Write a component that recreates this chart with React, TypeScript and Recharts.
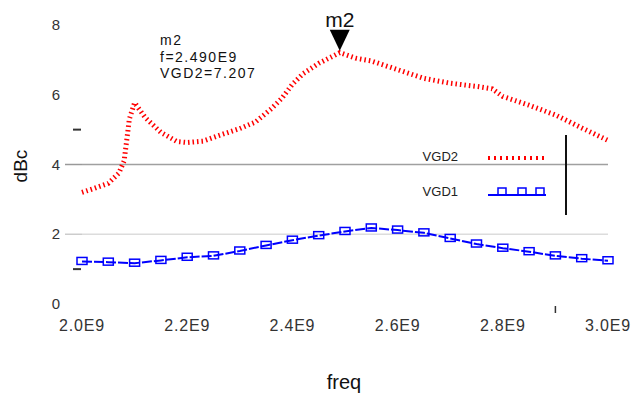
import { LineChart, Line, XAxis, YAxis, ReferenceLine, ReferenceDot } from 'recharts';

// VGD2 trace (dBc) vs freq (GHz -> shown as E9)
const vgd2Freq = [2.0, 2.02, 2.05, 2.07, 2.08, 2.085, 2.09, 2.1, 2.12, 2.15, 2.18, 2.2, 2.23, 2.26, 2.3, 2.33, 2.36, 2.38, 2.4, 2.42, 2.45, 2.49, 2.52, 2.55, 2.6, 2.65, 2.7, 2.75, 2.78, 2.8, 2.85, 2.9, 2.95, 3.0];
const vgd2Values = [3.2, 3.3, 3.46, 3.75, 4.1, 4.69, 5.3, 5.77, 5.35, 4.92, 4.66, 4.63, 4.67, 4.83, 5.03, 5.22, 5.6, 5.9, 6.3, 6.6, 6.9, 7.207, 7.05, 6.97, 6.72, 6.47, 6.33, 6.24, 6.17, 5.95, 5.7, 5.42, 5.05, 4.69];

// VGD1 trace
const vgd1Freq = [2.0, 2.05, 2.1, 2.15, 2.2, 2.25, 2.3, 2.35, 2.4, 2.45, 2.5, 2.55, 2.6, 2.65, 2.7, 2.75, 2.8, 2.85, 2.9, 2.95, 3.0];
const vgd1Values = [1.22, 1.2, 1.17, 1.25, 1.34, 1.38, 1.52, 1.68, 1.83, 1.96, 2.08, 2.18, 2.12, 2.04, 1.88, 1.72, 1.6, 1.5, 1.38, 1.3, 1.24];

const xTicks = [2.0, 2.2, 2.4, 2.6, 2.8, 2.9, 3.0];
const yTicks = [0, 1, 2, 4, 5, 6, 8];
const yLabels = [0, 2, 4, 6, 8];

const markerName = 'm2';
const markerFreq = 2.49;
const markerValue = 7.207;

const vgd2Data = vgd2Freq.map((f, i) => ({ freq: f, vgd2: vgd2Values[i] }));
const vgd1Data = vgd1Freq.map((f, i) => ({ freq: f, vgd1: vgd1Values[i] }));

const FONT = '"Liberation Sans", Arial, sans-serif';

function YTick({ y, payload }: any) {
  const v = payload.value;
  return (
    <g>
      {yLabels.includes(v) && (
        <text x={60} y={y + 5} textAnchor="end" fontSize={15} fill="#333" fontFamily={FONT}>{v}</text>
      )}
      {v === 4 && <line x1={65} x2={82} y1={y} y2={y} stroke="#999" strokeWidth={1.5} />}
      {v === 2 && <line x1={65} x2={82} y1={y} y2={y} stroke="#ccc" strokeWidth={1.5} />}
      {(v === 1 || v === 5) && <line x1={73} x2={81} y1={y} y2={y} stroke="#333" strokeWidth={2} />}
    </g>
  );
}

function XTick({ x, payload }: any) {
  const v = payload.value;
  if (v === 2.9) return <line x1={x} x2={x} y1={306} y2={313} stroke="#333" strokeWidth={1.5} />;
  return (
    <text x={x} y={331} textAnchor="middle" fontSize={16} letterSpacing={0.8} fill="#333" fontFamily={FONT}>
      {v.toFixed(1) + 'E9'}
    </text>
  );
}

function BoxDot(props: any) {
  const { cx, cy, index } = props;
  return <rect key={index} x={cx - 5} y={cy - 4} width={10} height={7} fill="none" stroke="#0000ff" strokeWidth={1.5} />;
}

function Marker({ cx, cy }: any) {
  return (
    <g>
      <polygon points={`${cx - 10},${cy - 23} ${cx + 10},${cy - 23} ${cx},${cy - 2}`} fill="#000" />
      <text x={cx} y={cy - 26} textAnchor="middle" fontSize={21} fill="#111" fontFamily={FONT}>{markerName}</text>
    </g>
  );
}

export default function App() {
  return (
    <div style={{ position: 'absolute', left: 0, top: 0, width: 637, height: 398, background: '#fff', fontFamily: FONT }}>
      <LineChart width={637} height={398} margin={{ top: 25, right: 29, left: 22, bottom: 64 }}>
        <XAxis
          dataKey="freq"
          type="number"
          domain={[2.0, 3.0]}
          ticks={xTicks}
          tick={<XTick />}
          axisLine={false}
          tickLine={false}
          height={30}
          allowDuplicatedCategory={false}
        />
        <YAxis
          type="number"
          domain={[0, 8]}
          ticks={yTicks}
          tick={<YTick />}
          axisLine={false}
          tickLine={false}
          width={60}
        />
        <ReferenceLine y={2} stroke="#dcdcdc" strokeWidth={1.5} />
        <ReferenceLine y={4} stroke="#a0a0a0" strokeWidth={1.5} />
        <Line
          data={vgd1Data}
          dataKey="vgd1"
          stroke="#0000ff"
          strokeWidth={2}
          strokeDasharray="10 2"
          dot={BoxDot}
          isAnimationActive={false}
        />
        <Line
          data={vgd2Data}
          dataKey="vgd2"
          stroke="#ff0000"
          strokeWidth={5}
          strokeDasharray="1.5 3"
          dot={false}
          isAnimationActive={false}
        />
        <ReferenceDot x={markerFreq} y={markerValue} shape={<Marker />} />
      </LineChart>

      {/* marker readout */}
      <div style={{ position: 'absolute', left: 160, top: 32, fontSize: 14, lineHeight: '16.5px', color: '#111', letterSpacing: 1.5 }}>
        <div>{markerName}</div>
        <div>f={markerFreq.toFixed(3)}E9</div>
        <div>VGD2={markerValue.toFixed(3)}</div>
      </div>

      {/* legend */}
      <div style={{ position: 'absolute', left: 405, top: 135, width: 160, height: 80, borderRight: '2px solid #111', fontSize: 13, color: '#222' }}>
        <div style={{ position: 'absolute', right: 107, top: 14 }}>VGD2</div>
        <svg style={{ position: 'absolute', left: 83, top: 18 }} width={58} height={10}>
          <line x1={0} x2={58} y1={5} y2={5} stroke="#ff0000" strokeWidth={4} strokeDasharray="2 4" />
        </svg>
        <div style={{ position: 'absolute', right: 107, top: 49 }}>VGD1</div>
        <svg style={{ position: 'absolute', left: 83, top: 50 }} width={58} height={12}>
          <line x1={0} x2={58} y1={10} y2={10} stroke="#0000ff" strokeWidth={2} />
          <rect x={10} y={3} width={8} height={7} fill="none" stroke="#0000ff" strokeWidth={1.5} />
          <rect x={30} y={3} width={8} height={7} fill="none" stroke="#0000ff" strokeWidth={1.5} />
          <rect x={48} y={3} width={8} height={7} fill="none" stroke="#0000ff" strokeWidth={1.5} />
        </svg>
      </div>

      {/* axis titles */}
      <div style={{ position: 'absolute', left: 21, top: 166, fontSize: 19, color: '#111', transform: 'translate(-50%, -50%) rotate(-90deg)' }}>dBc</div>
      <div style={{ position: 'absolute', left: 344, top: 382, fontSize: 20, color: '#111', transform: 'translate(-50%, -50%)' }}>freq</div>
    </div>
  );
}
